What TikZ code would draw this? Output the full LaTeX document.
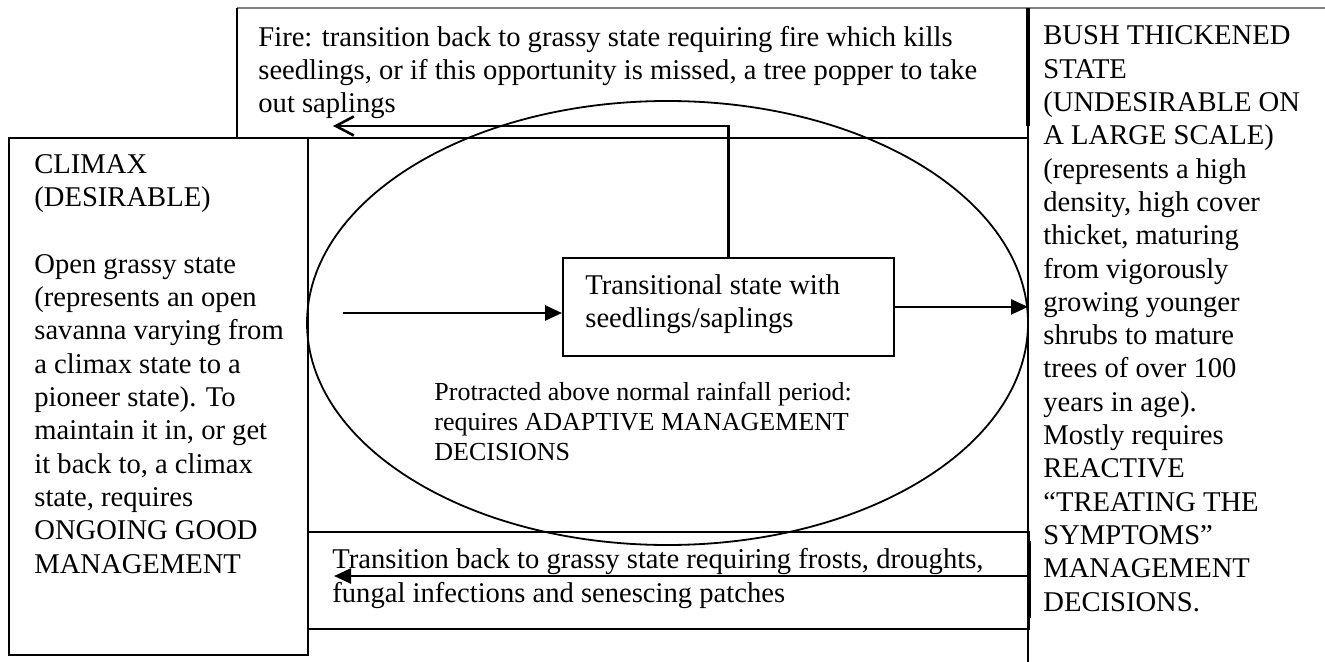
\documentclass[tikz,border=0pt]{standalone}
\usepackage{fontspec}
\setmainfont{Liberation Serif}
\usetikzlibrary{arrows.meta,shapes.geometric}

\begin{document}
\begin{tikzpicture}[x=0.5pt,y=-0.5pt,
    frame/.style={draw,line width=0.9pt,inner sep=0pt,anchor=north west},
    panel/.style={inner sep=0pt,anchor=north west},
    txt/.style={align=left,inner sep=0pt,anchor=base west,font=\fontsize{14.3}{16.65}\selectfont},
    small/.style={txt,font=\fontsize{13}{15}\selectfont},
    arr/.style={line width=1.3pt,-{Triangle[length=8.5pt,width=7.5pt]}},
    barb/.style={line width=1.3pt,-{Straight Barb[length=9pt,width=9.5pt]}}]
    \useasboundingbox (0,0) rectangle (1325,662);

    % panels
    \node[frame,minimum width=149.5pt,minimum height=258.5pt] (climax) at (8,137) {};
    \node[frame,minimum width=360.5pt,minimum height=48.5pt] (frost) at (307,531) {};
    \node[panel,minimum width=395.5pt,minimum height=64.5pt] (fire) at (237,8) {};
    \node[panel,minimum width=148.5pt,minimum height=327pt] (bush) at (1028,8) {};
    \draw[gray,line width=0.9pt] (fire.north west) -- (bush.north east);
    \draw[line width=0.9pt] (fire.north west) -- (fire.south west) -- (fire.south east);
    \draw[line width=0.9pt] (bush.north west) -- (bush.south west);
    \draw[line width=1.6pt] (bush.north west) -- ++(0,118);
    \draw[line width=1.6pt] ([yshift=-5pt]frost.north east) -- ([yshift=6pt]frost.south east);

    \node[draw,ellipse,line width=0.9pt,inner sep=0pt,minimum width=360.5pt,minimum height=222pt] (rain) at (667.5,323) {};
    \node[frame,minimum width=165.5pt,minimum height=49pt] (trans) at (562,257) {};

    % texts (anchored at the baseline of the last line)
    \node[txt] (firetext) at (258,113) {Fire: transition back to grassy state requiring fire which kills\\seedlings, or if this opportunity is missed, a tree popper to take\\out saplings};
    \node[txt] (bushtext) at (1043,611) {BUSH THICKENED\\STATE\\(UNDESIRABLE ON\\A LARGE SCALE)\\(represents a high\\density, high cover\\thicket, maturing\\from vigorously\\growing younger\\shrubs to mature\\trees of over 100\\years in age).\\Mostly requires\\REACTIVE\\“TREATING THE\\SYMPTOMS”\\MANAGEMENT\\DECISIONS.};
    \node[txt] (climaxtext) at (34,573) {CLIMAX\\(DESIRABLE)\\[16.65pt]Open grassy state\\(represents an open\\savanna varying from\\a climax state to a\\pioneer state). To\\maintain it in, or get\\it back to, a climax\\state, requires\\ONGOING GOOD\\MANAGEMENT};
    \node[txt] (transtext) at (585,328) {Transitional state with\\seedlings/saplings};
    \node[small] (raintext) at (434,460) {Protracted above normal rainfall period:\\requires ADAPTIVE MANAGEMENT\\DECISIONS};
    \node[txt] (frosttext) at (332,602) {Transition back to grassy state requiring frosts, droughts,\\fungal infections and senescing patches};

    % transitions
    \coordinate (seedin) at (343,313);
    \coordinate (firetip) at (333,126);
    \coordinate (frosttip) at (334,576);
    \draw[arr] (seedin) -- (seedin -| trans.west);
    \draw[arr] (trans.east) -- (trans.east -| bush.west);
    \draw[barb] (trans.north) |- (firetip);
    \draw[arr] (frosttip -| frost.east) -- (frosttip);
\end{tikzpicture}
\end{document}
